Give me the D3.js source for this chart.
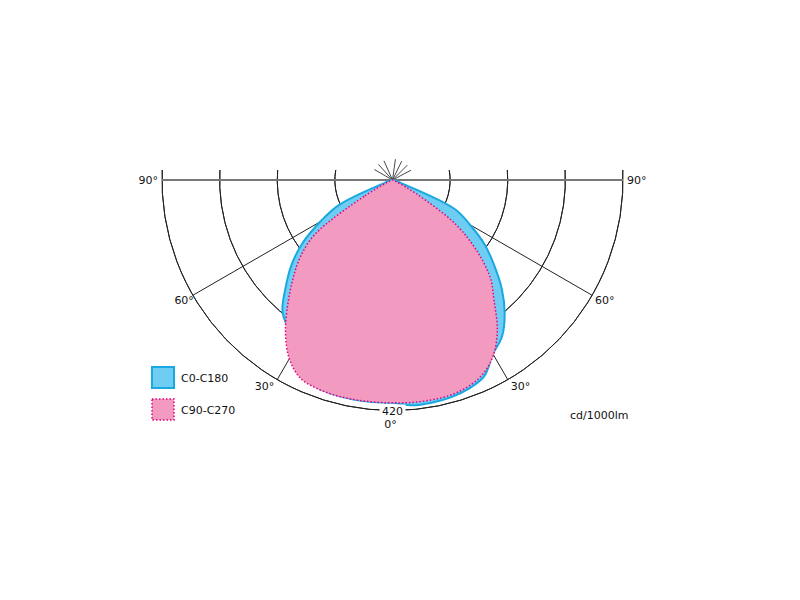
<!DOCTYPE html>
<html>
<head>
<meta charset="utf-8">
<script src="https://cdn.jsdelivr.net/npm/d3@7"></script>
<style>
  body { margin: 0; background: #fff; }
  text { font-family: "DejaVu Sans", Verdana, sans-serif; font-size: 11px; fill: #111; }
</style>
</head>
<body>
<div class="graph"></div>
<script>
// gamma angles (degrees from nadir)
var angles = [0, 5, 10, 15, 20, 25, 30, 35, 40, 45, 50, 55, 60, 65, 70, 75, 80, 85, 90];
// C0-C180 plane (cd/1000lm)
var c0   = [412, 412, 412, 410, 405, 395, 366, 348, 318, 282, 242, 205, 163, 125, 18, 0, 0, 0, 0];
var c180 = [406, 406, 406, 405, 402, 390, 362, 332, 312, 275, 240, 200, 152, 108, 15, 0, 0, 0, 0];
// C90-C270 plane
var c90  = [406, 407, 407, 406, 401, 390, 368, 333, 288, 252, 200, 140, 50, 8, 0, 0, 0, 0, 0];
var c270 = [406, 406, 406, 406, 404, 398, 376, 340, 297, 257, 220, 172, 60, 10, 0, 0, 0, 0, 0];

var ringValues = [105, 210, 315, 420];
var spokeAngles = [30, 60];
var legendNames = ["C0-C180", "C90-C270"];
var unitLabel = "cd/1000lm";

// Configuration
var width = 800, height = 600;
var cx = 392.5, cy = 180;
var maxR = 230.5;

var svg = d3.select(".graph").append("svg")
    .attr("width", width)
    .attr("height", height)
    .style("display", "block");

var rScale = d3.scaleLinear().domain([0, 420]).range([0, maxR]);
var rad = Math.PI / 180;

var g = svg.append("g").attr("transform", "translate(" + cx + "," + cy + ")");

// Spokes below the curves
spokeAngles.forEach(function (a) {
    [-1, 1].forEach(function (s) {
        g.append("line")
            .attr("x1", 0).attr("y1", 0)
            .attr("x2", s * maxR * Math.sin(a * rad))
            .attr("y2", maxR * Math.cos(a * rad))
            .attr("stroke", "#222").attr("stroke-width", 1);
    });
});

// short rays above the centre
[28, 45, 64, 82, 114, 132, 150].forEach(function (e) {
    g.append("line")
        .attr("x1", 0).attr("y1", 0)
        .attr("x2", 21 * Math.cos(e * rad))
        .attr("y2", -21 * Math.sin(e * rad))
        .attr("stroke", "#333").attr("stroke-width", 0.9);
});

// Rings
var arc = d3.arc();
ringValues.forEach(function (v) {
    var r = rScale(v);
    var ext = Math.asin(10 / r);
    g.append("path")
        .attr("d", arc({innerRadius: r, outerRadius: r,
                        startAngle: Math.PI / 2 - ext, endAngle: 3 * Math.PI / 2 + ext}))
        .attr("fill", "none")
        .attr("stroke", "#222")
        .attr("stroke-width", 1);
});

// Horizontal 90° line
g.append("line")
    .attr("x1", -maxR).attr("x2", maxR)
    .attr("y1", 0).attr("y2", 0)
    .attr("stroke", "#777").attr("stroke-width", 2);

// Curves
function buildPoints(right, left) {
    var pts = [];
    for (var i = angles.length - 1; i >= 0; i--) {
        if (left[i] > 0) pts.push({a: Math.PI + angles[i] * rad, v: left[i]});
    }
    for (var j = 1; j < angles.length; j++) {
        if (right[j] > 0) pts.push({a: Math.PI - angles[j] * rad, v: right[j]});
    }
    pts.push({a: 0, v: 0});
    return pts;
}
var radial = d3.lineRadial()
    .angle(function (d) { return d.a; })
    .radius(function (d) { return rScale(d.v); })
    .curve(d3.curveCatmullRomClosed.alpha(0.5));

g.append("path")
    .attr("d", radial(buildPoints(c0, c180)))
    .attr("fill", "#6fcdf4")
    .attr("stroke", "#19a8e0")
    .attr("stroke-width", 2)
    .attr("stroke-linejoin", "round");

g.append("path")
    .attr("d", radial(buildPoints(c90, c270)))
    .attr("fill", "#f29abf")
    .attr("stroke", "#e4007f")
    .attr("stroke-width", 1.5)
    .attr("stroke-dasharray", "1.5,2");

// Angle labels
svg.append("text").attr("x", cx - maxR - 4).attr("y", cy + 4).attr("text-anchor", "end").text("90°");
svg.append("text").attr("x", cx + maxR + 4).attr("y", cy + 4).text("90°");
svg.append("text").attr("x", cx - maxR * Math.sin(60 * rad) + 1).attr("y", cy + maxR * Math.cos(60 * rad) + 9).attr("text-anchor", "end").text("60°");
svg.append("text").attr("x", cx + maxR * Math.sin(60 * rad) + 3).attr("y", cy + maxR * Math.cos(60 * rad) + 9).text("60°");
svg.append("text").attr("x", cx - maxR * Math.sin(30 * rad) - 3).attr("y", cy + maxR * Math.cos(30 * rad) + 10).attr("text-anchor", "end").text("30°");
svg.append("text").attr("x", cx + maxR * Math.sin(30 * rad) + 3).attr("y", cy + maxR * Math.cos(30 * rad) + 10).text("30°");

// 420 label over outer ring
svg.append("rect").attr("x", cx - 13).attr("y", cy + maxR - 6).attr("width", 26).attr("height", 12).attr("fill", "#fff");
svg.append("text").attr("x", cx).attr("y", cy + maxR + 4).attr("text-anchor", "middle").text(ringValues[ringValues.length - 1]);
svg.append("text").attr("x", cx - 2).attr("y", cy + maxR + 17).attr("text-anchor", "middle").text("0°");

// Legend
svg.append("rect").attr("x", 152).attr("y", 367).attr("width", 22).attr("height", 21)
    .attr("fill", "#6fcdf4").attr("stroke", "#19a8e0").attr("stroke-width", 2);
svg.append("rect").attr("x", 152).attr("y", 399).attr("width", 22).attr("height", 21)
    .attr("fill", "#f29abf").attr("stroke", "#e4007f").attr("stroke-width", 1.5).attr("stroke-dasharray", "1.5,2");
svg.append("text").attr("x", 181).attr("y", 382).text(legendNames[0]);
svg.append("text").attr("x", 181).attr("y", 414).text(legendNames[1]);

svg.append("text").attr("x", 570).attr("y", 419).text(unitLabel);
</script>
</body>
</html>
